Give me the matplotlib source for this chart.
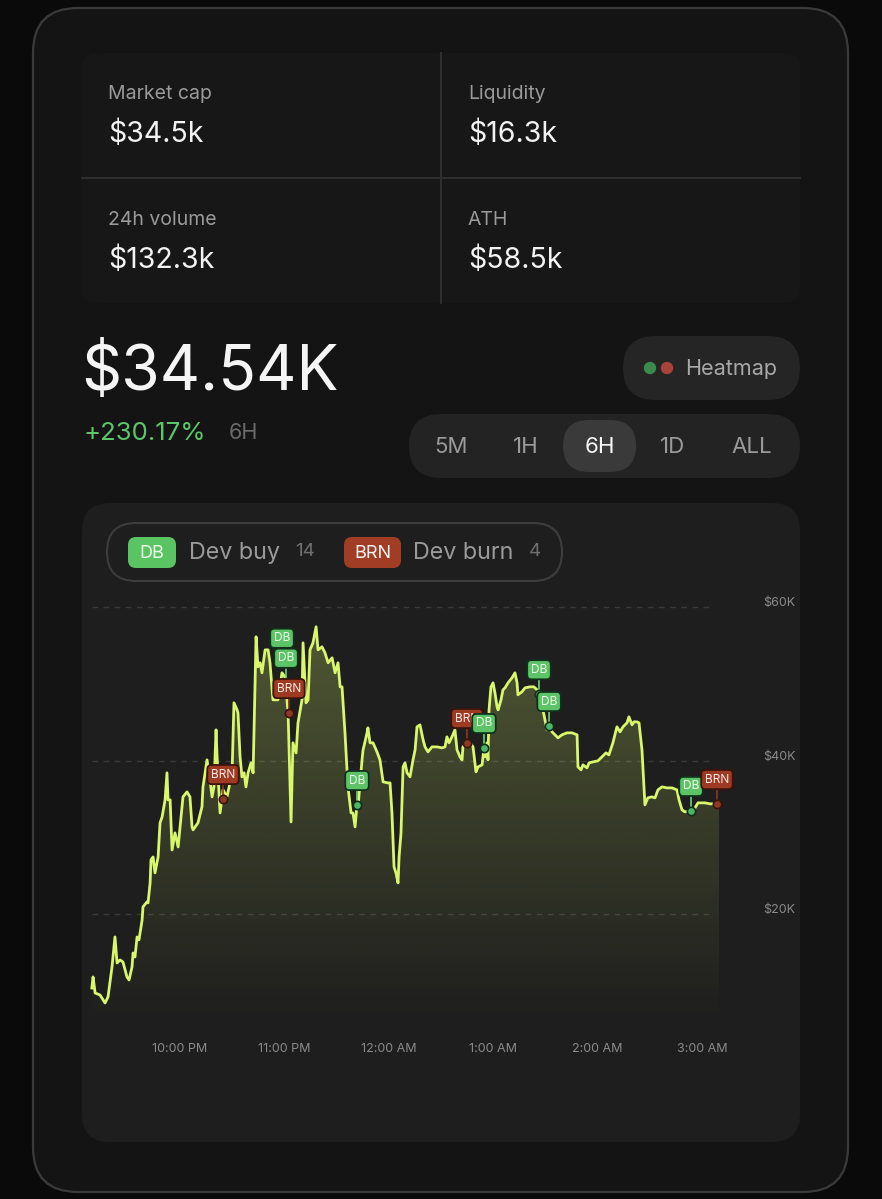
import numpy as np
import matplotlib
matplotlib.use("Agg")
import matplotlib.pyplot as plt
from matplotlib.patches import FancyBboxPatch, Circle

plt.rcParams['font.family'] = ['Inter', 'DejaVu Sans']

# --- data -------------------------------------------------------------
# minutes after 9:00 PM, market cap in $K
minutes = [9.3, 10.0, 11.2, 14.0, 16.9, 18.6, 20.9, 22.6, 23.8, 25.5, 27.2, 29.5, 30.7, 32.4, 33.0,
           34.1, 35.3, 36.4, 38.2, 38.7, 41.0, 41.6, 42.8, 43.3, 44.5, 45.6, 47.4, 48.5, 49.7, 51.4,
           52.5, 53.1, 54.3, 55.4, 57.1, 58.9, 60.0, 61.7, 64.0, 65.7, 66.9, 67.5, 70.3, 72.6, 73.2,
           75.5, 77.2, 78.4, 79.5, 80.7, 81.3, 83.0, 84.7, 87.0, 89.9, 91.0, 92.8, 93.3, 94.5, 95.6,
           96.8, 97.9, 99.1, 100.8, 102.0, 103.7, 104.8, 106.0, 107.1, 108.9, 110.6, 111.7, 113.4,
           116.3, 118.6, 120.3, 122.1, 123.8, 124.9, 126.7, 127.8, 130.1, 130.7, 132.4, 133.6, 134.7,
           136.4, 138.2, 139.3, 141.6, 143.3, 145.1, 147.4, 149.1, 150.8, 152.0, 153.1, 154.8, 156.5,
           158.3, 159.4, 160.6, 161.7, 162.3, 164.6, 165.2, 167.5, 168.0, 169.2, 170.9, 173.2, 174.9,
           176.7, 179.5, 180.7, 181.8, 183.0, 184.1, 185.3, 185.9, 187.0, 188.2, 189.3, 190.5, 192.2,
           193.9, 195.1, 196.2, 197.9, 199.7, 200.8, 202.5, 204.8, 207.7, 210.6, 212.3, 213.4, 214.6,
           216.3, 218.0, 219.2, 220.9, 222.1, 222.6, 224.9, 226.7, 228.4, 230.1, 231.3, 233.6, 234.7,
           235.3, 236.4, 237.0, 237.6, 238.7, 239.9, 241.0, 242.2, 242.8, 244.5, 245.6, 246.8, 248.5,
           250.8, 252.5, 253.7, 254.2, 256.5, 258.3, 261.1, 263.4, 265.2, 266.3, 268.6, 270.9, 272.1,
           273.8, 275.5, 277.2, 279.5, 282.4, 285.3, 288.2, 288.7, 290.5, 291.6, 293.9, 295.1, 297.4,
           300.2, 302.5, 304.8, 306.5, 308.8, 311.1, 312.9, 314.6, 316.9, 318.0, 319.8, 320.9, 322.6,
           323.8, 325.5, 327.2, 328.9, 331.2, 333.0, 334.7, 337.0, 339.9, 342.8, 345.6, 346.8, 348.5,
           350.2, 353.7, 356.0, 357.7, 361.7, 364.6, 368.6, 369.8]
mcap_k = [10.42, 11.86, 9.77, 9.51, 8.47, 9.25, 13.16, 17.07, 13.68, 14.07, 13.81, 11.86, 11.47, 13.16, 14.98,
          14.46, 17.07, 16.68, 19.28, 20.98, 21.63, 21.50, 24.10, 27.10, 27.49, 25.41, 27.49, 31.92, 32.70, 34.92,
          38.44, 34.92, 34.92, 28.40, 30.62, 28.79, 31.40, 35.31, 35.96, 35.31, 31.40, 31.01, 31.92, 34.01, 36.61,
          40.13, 37.52, 35.31, 36.61, 44.04, 40.52, 33.22, 36.22, 35.31, 38.44, 47.56, 46.64, 46.25, 40.52, 37.92,
          38.44, 36.61, 38.44, 39.74, 38.44, 56.16, 52.25, 52.77, 51.47, 54.46, 54.46, 52.77, 47.95,
          47.95, 51.47, 50.94, 46.25, 32.05, 42.35, 41.04, 44.95, 47.95, 55.37, 47.56, 47.95, 54.46,
          55.37, 57.46, 54.46, 54.85, 54.07, 52.77, 53.42, 51.47, 52.77, 49.64, 49.64, 43.65, 36.61,
          33.22, 33.22, 31.40, 34.27, 34.01, 40.13, 41.43, 43.65, 44.30, 42.35, 42.35, 41.17, 40.13,
          37.26, 37.13, 37.13, 33.22, 26.19, 25.41, 24.10, 27.49, 30.62, 39.22, 39.74, 38.44, 37.92,
          40.13, 41.43, 44.43, 44.69, 42.74, 41.82, 41.17, 41.82, 41.82, 41.69, 41.82, 43.13, 42.35,
          43.13, 44.04, 41.43, 40.52, 40.13, 41.82, 42.35, 42.35, 41.82, 38.57, 39.22, 39.48, 41.69,
          40.52, 42.35, 40.13, 46.64, 49.64, 50.16, 48.86, 47.04, 46.64, 47.95, 49.25, 49.51, 50.16,
          50.81, 51.47, 50.16, 48.60, 48.99, 49.51, 49.64, 49.64, 49.25, 48.73, 46.64, 44.04, 44.56,
          43.78, 43.39, 43.00, 43.39, 43.65, 43.65, 43.39, 39.22, 38.83, 39.48, 39.09, 39.74, 39.87,
          40.00, 40.52, 41.04, 40.78, 42.35, 44.43, 43.78, 44.43, 44.95, 45.73, 44.69, 45.08, 45.08,
          44.95, 41.43, 34.27, 35.18, 35.31, 35.18, 36.22, 36.61, 36.48, 36.48, 36.22, 34.92, 33.62,
          33.36, 33.49, 33.88, 34.53, 34.53, 34.40, 34.40, 34.54]

# dev events: kind, minute, value ($K)
event_kind = ["BRN", "DB", "DB", "BRN", "DB", "BRN", "DB", "DB", "DB", "DB", "BRN"]
event_min = [84.7, 118.6, 120.9, 122.6, 161.7, 224.9, 234.7, 266.3, 272.1, 353.7, 368.6]
event_val = [35.05, 52.8, 50.2, 46.25, 34.27, 42.35, 41.7, 48.7, 44.56, 33.5, 34.4]

tick_min = [60, 120, 180, 240, 300, 360]
tick_lbl = ["10:00 PM", "11:00 PM", "12:00 AM", "1:00 AM", "2:00 AM", "3:00 AM"]
ytick_k = [20, 40, 60]

stats = [("Market cap", "$34.5k"), ("Liquidity", "$16.3k"),
         ("24h volume", "$132.3k"), ("ATH", "$58.5k")]
price = "$34.54K"
change = "+230.17%"
frames = ["5M", "1H", "6H", "1D", "ALL"]
dev_buy_count = 14
dev_burn_count = 4

# --- figure -----------------------------------------------------------
W, H = 882, 1199
fig = plt.figure(figsize=(W / 100, H / 100), dpi=100)
fig.patch.set_facecolor("#0a0a0a")

bg = fig.add_axes([0, 0, 1, 1])
bg.set_xlim(0, W)
bg.set_ylim(H, 0)
bg.axis("off")


def rbox(x0, y0, x1, y1, r, fc, ec="none", lw=0):
    bg.add_patch(FancyBboxPatch((x0, y0), x1 - x0, y1 - y0,
                                boxstyle=f"round,pad=0,rounding_size={r}",
                                fc=fc, ec=ec, lw=lw))


# card + stats block
rbox(33, 8, 848, 1192, 45, "#141414", "#3a3a3a", 1.6)
rbox(82, 53, 800, 303, 16, "#171717")
bg.plot([82, 800], [178, 178], color="#2e2e2e", lw=1.5)
bg.plot([441, 441], [53, 303], color="#2e2e2e", lw=1.5)
for i, (lab, val) in enumerate(stats):
    x = 108 if i % 2 == 0 else 468
    y = 94 if i < 2 else 220
    bg.text(x, y, lab, color="#9a9a9a", fontsize=14, va="center")
    bg.text(x, y + 40, val, color="#f2f2f2", fontsize=20.5, va="center")

# price header
bg.text(81, 373, price, color="#f5f5f5", fontsize=45, va="center")
bg.text(83, 433, change, color="#5cc66a", fontsize=18.5, va="center")
bg.text(229, 433, "6H", color="#6a6a6a", fontsize=15.5, va="center")

# heatmap pill
rbox(623, 336, 800, 400, 32, "#252525")
bg.add_patch(Circle((650, 368), 5.5, color="#3e8a4d"))
bg.add_patch(Circle((667, 368), 5.5, color="#a6443b"))
bg.text(685, 369, "Heatmap", color="#a8a8a8", fontsize=15.5, va="center")

# timeframe selector
rbox(409, 414, 800, 478, 32, "#232323")
rbox(563, 420, 636, 472, 26, "#3a3a3a")
for lab, cx in zip(frames, [451, 526, 600, 673, 752]):
    bg.text(cx, 447, lab, color="#f5f5f5" if lab == "6H" else "#9a9a9a",
            fontsize=16, ha="center", va="center")

# chart panel + legend
rbox(82, 503, 800, 1142, 28, "#1e1e1e")
rbox(107, 523, 562, 581, 29, "#1e1e1e", "#3d3d3d", 1.5)
rbox(128, 537, 176, 568, 8, "#5ac463")
bg.text(152, 553, "DB", color="#eafbe9", fontsize=13, ha="center", va="center")
bg.text(189, 553, "Dev buy", color="#9a9a9a", fontsize=16.8, va="center")
bg.text(295, 552, str(dev_buy_count), color="#707070", fontsize=13.5, va="center")
rbox(344, 537, 401, 568, 8, "#a13d24")
bg.text(372.5, 553, "BRN", color="#f5f5f5", fontsize=13, ha="center", va="center")
bg.text(413, 553, "Dev burn", color="#9a9a9a", fontsize=16.8, va="center")
bg.text(529, 552, str(dev_burn_count), color="#707070", fontsize=13.5, va="center")

# --- price chart ------------------------------------------------------
ax = fig.add_axes([88 / W, 1 - 1025 / H, (722 - 88) / W, (1025 - 595) / H])
ax.patch.set_alpha(0)
for s in ax.spines.values():
    s.set_visible(False)
ax.set_xlim(7.1, 371.5)
ax.set_ylim(5.6, 61.6)

line_col = "#d9f66c"
for v in ytick_k:
    ax.axhline(v, xmin=0.006, xmax=0.984, color="#3a3a3a", lw=1, ls=(0, (4, 4)), zorder=1)

ylo = ax.get_ylim()[0]
poly = ax.fill_between(minutes, mcap_k, ylo, color="none", lw=0)
grad = np.zeros((256, 1, 4))
grad[..., :3] = matplotlib.colors.to_rgb(line_col)
grad[..., 3] = np.linspace(0.27, 0.0, 256)[:, None]
im = ax.imshow(grad, extent=[minutes[0], minutes[-1], ylo, 58], aspect="auto",
               origin="upper", zorder=2)
im.set_clip_path(poly.get_paths()[0], transform=ax.transData)
ax.set_xlim(7.1, 371.5)
ax.set_ylim(5.6, 61.6)
ax.plot(minutes, mcap_k, color=line_col, lw=2.0, zorder=3, solid_joinstyle="round")

styles = {
    "DB": dict(fc="#5cc466", ec="#10301a", tc="#eafbe9", dot="#4db565", stem="#6cd07a"),
    "BRN": dict(fc="#9e3a22", ec="#3a140c", tc="#f7e9e4", dot="#8c3a24", stem="#8a3520"),
}
for i, (k, t, v) in enumerate(zip(event_kind, event_min, event_val)):
    st = styles[k]
    z = 10 + i
    ax.annotate(k, xy=(t, v), xytext=(0, 17.5), textcoords="offset points",
                ha="center", va="center", fontsize=8.6, color=st["tc"], zorder=z,
                bbox=dict(boxstyle="round,pad=0.3,rounding_size=0.35", fc=st["fc"],
                          ec=st["ec"], lw=1.3),
                arrowprops=dict(arrowstyle="-", color=st["stem"], lw=1.2,
                                shrinkA=0, shrinkB=2))
    ax.plot(t, v, "o", ms=6, mfc=st["dot"], mec=st["ec"], mew=1.2, zorder=z)

ax.set_xticks(tick_min)
ax.set_xticklabels(tick_lbl)
ax.set_yticks([])
ax.tick_params(axis="x", length=0, pad=13, labelsize=9, labelcolor="#8a8a8a")
for v in ytick_k:
    ax.annotate(f"${v}K", xy=(1, v), xycoords=("axes fraction", "data"),
                xytext=(29.5, 3), textcoords="offset points",
                ha="left", va="center", fontsize=9, color="#8a8a8a")

fig.savefig("out.png", dpi=100, facecolor=fig.get_facecolor())
